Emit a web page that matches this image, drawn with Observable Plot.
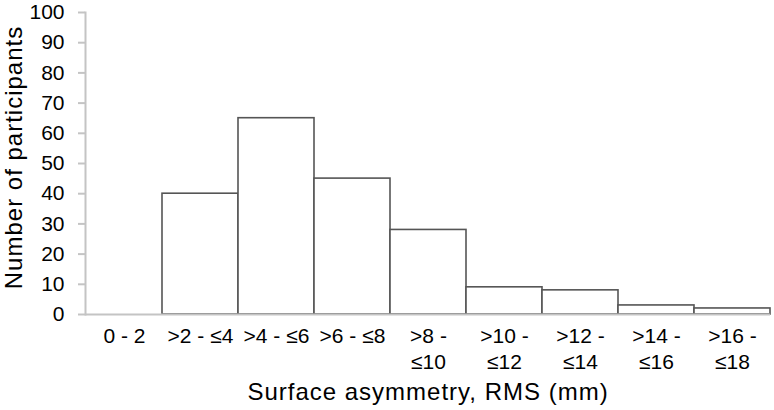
<!DOCTYPE html>
<html>
<head>
<meta charset="utf-8">
<script src="https://cdn.jsdelivr.net/npm/d3@7"></script>
<script src="https://cdn.jsdelivr.net/npm/@observablehq/plot@0.6"></script>
<style>
  html, body { margin: 0; padding: 0; background: #fff; }
  #chart svg { display: block; }
</style>
</head>
<body>
<div id="chart"></div>
<script>
// ---- data ----
const categories = ["0 - 2", ">2 - ≤4", ">4 - ≤6", ">6 - ≤8", ">8 - ≤10", ">10 - ≤12", ">12 - ≤14", ">14 - ≤16", ">16 - ≤18"];
const tickLabels = ["0 - 2", ">2 - ≤4", ">4 - ≤6", ">6 - ≤8", ">8 -\n≤10", ">10 -\n≤12", ">12 -\n≤14", ">14 -\n≤16", ">16 -\n≤18"];
const participants = [0, 40, 65, 45, 28, 9, 8, 3, 2];
const yTicks = [0, 10, 20, 30, 40, 50, 60, 70, 80, 90, 100];
const xTitle = "Surface asymmetry, RMS (mm)";
const yTitle = "Number of participants";

// ---- build table ----
const data = categories.map((c, i) => ({category: c, count: participants[i]}));
const labelOf = new Map(categories.map((c, i) => [c, tickLabels[i]]));

const font = "'Liberation Sans', Arial, Helvetica, sans-serif";

const chart = Plot.plot({
  width: 774,
  height: 410,
  marginLeft: 85,
  marginRight: 4,
  marginTop: 12,
  marginBottom: 96,
  style: {fontFamily: font, background: "#fff", color: "#000"},
  x: {domain: categories, padding: 0},
  y: {domain: [0, 100]},
  marks: [
    Plot.barY(data, {x: "category", y: "count", fill: "white", stroke: "#555", strokeWidth: 1.6, inset: 0}),
    Plot.frame({anchor: "left", stroke: "#c4c4c4", strokeWidth: 2}),
    Plot.ruleY([0], {stroke: "#c4c4c4", strokeWidth: 2}),
    Plot.axisY({ticks: yTicks, tickSize: 7, tickPadding: 14, stroke: "#c4c4c4", strokeWidth: 2, fill: "#000", fontSize: 21, label: null}),
    Plot.axisX({tickSize: 0, tickPadding: 10, tickFormat: d => labelOf.get(d), fill: "#000", fontSize: 21, lineHeight: 1.25, label: null}),
    Plot.text([xTitle], {text: d => d, frameAnchor: "bottom", textAnchor: "middle", lineAnchor: "top", dy: 68, fontSize: 24, fill: "#000"}),
    Plot.text([yTitle], {text: d => d, frameAnchor: "left", textAnchor: "middle", rotate: -90, lineAnchor: "top", dx: -81, dy: -6, fontSize: 24, fill: "#000"})
  ]
});

// titles in the reference are slightly wider-set
d3.select(chart).selectAll("g[aria-label='text'] text").style("letter-spacing", "1px");

document.getElementById("chart").appendChild(chart);
</script>
</body>
</html>
